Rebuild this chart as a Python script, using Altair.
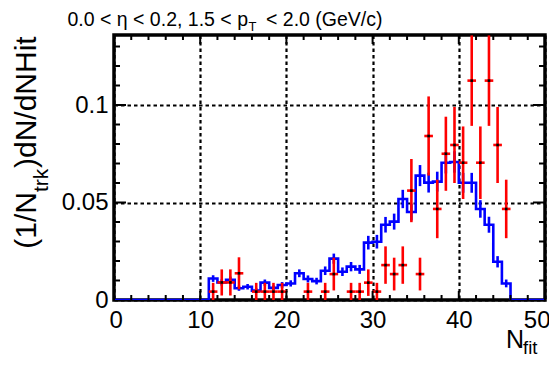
import altair as alt
import pandas as pd

W, H = 431, 265
YMAX = 0.1359

# ---- data ----
# blue histogram: bins [n, n+1) for n = 0..49
blue_vals = [0, 0, 0, 0, 0, 0, 0, 0, 0, 0, 0,
             0.011, 0.009, 0.0103, 0.006, 0.0068, 0.0048, 0.0089, 0.0062, 0.0077, 0.0085,
             0.0137, 0.0108, 0.0097, 0.015, 0.0212, 0.0145, 0.0171, 0.0157, 0.0294, 0.0299,
             0.0386, 0.0402, 0.0518, 0.0451, 0.0638, 0.0602, 0.0607, 0.0704, 0.0708, 0.0601,
             0.0601, 0.0467, 0.0386, 0.0196, 0.0085,
             0, 0, 0, 0]
blue_errs = [0, 0, 0, 0, 0, 0, 0, 0, 0, 0, 0,
             0.0017, 0.0016, 0.0017, 0.0013, 0.0014, 0.0012, 0.0016, 0.0013, 0.0015, 0.0016,
             0.002, 0.0018, 0.0017, 0.0022, 0.0026, 0.0022, 0.0024, 0.0023, 0.0035, 0.0035,
             0.004, 0.0041, 0.0047, 0.0043, 0.0054, 0.0051, 0.0051, 0.0055, 0.0055, 0.0051,
             0.0051, 0.0045, 0.0041, 0.0029, 0.002,
             0, 0, 0, 0]

# red points: bin left edges, values, errors
red_bins = [11, 12, 13, 14, 16, 17, 18, 19, 22, 24, 25, 27, 28, 29, 30,
            31, 32, 33, 34, 35, 36, 37, 38, 39, 40, 41, 42, 43, 44, 45]
red_vals = [0.0043, 0.009, 0.009, 0.0137, 0.0043, 0.0043, 0.0043, 0.0043, 0.0043, 0.0043,
            0.0133, 0.0043, 0.0043, 0.0089, 0.0043, 0.0179, 0.0133, 0.0179, 0.0561, 0.0133,
            0.0841, 0.0467, 0.075, 0.0795, 0.0704, 0.1125, 0.0704, 0.1125, 0.0795, 0.0467]
red_errs = [0.0045, 0.0067, 0.0067, 0.0082, 0.0045, 0.0045, 0.0045, 0.0045, 0.0045, 0.0045,
            0.0084, 0.0045, 0.0045, 0.0068, 0.0045, 0.0096, 0.0084, 0.0096, 0.0162, 0.0084,
            0.0203, 0.015, 0.019, 0.0195, 0.0186, 0.0232, 0.0186, 0.0232, 0.0195, 0.015]

x_labels = [0, 10, 20, 30, 40, 50]
y_labels = [0, 0.05, 0.1]
x_minor = [0, 2, 4, 6, 8, 12, 14, 16, 18, 22, 24, 26, 28, 32, 34, 36, 38, 42, 44, 46, 48, 50]
x_major = [10, 20, 30, 40]
y_minor = [0.01, 0.02, 0.03, 0.04, 0.06, 0.07, 0.08, 0.09, 0.11, 0.12, 0.13]
y_major = [0.05, 0.1]

# ---- tables ----
edges = list(range(0, 51))
blue_line = pd.DataFrame({"x": edges, "y": blue_vals + [0]})
blue_eb = pd.DataFrame({
    "x": [n + 0.5 for n in range(50)],
    "lo": [v - e for v, e in zip(blue_vals, blue_errs)],
    "hi": [v + e for v, e in zip(blue_vals, blue_errs)],
    "e": blue_errs,
})
blue_eb = blue_eb[blue_eb["e"] > 0]
red = pd.DataFrame({
    "x": [b + 0.5 for b in red_bins],
    "xl": red_bins,
    "xh": [b + 1 for b in red_bins],
    "y": red_vals,
    "lo": [v - e for v, e in zip(red_vals, red_errs)],
    "hi": [v + e for v, e in zip(red_vals, red_errs)],
})

FONT = "Liberation Sans"
BLUE = "#0000ff"
RED = "#ff0000"

xs = alt.Scale(domain=[0, 50], nice=False, zero=False)
ys = alt.Scale(domain=[0, YMAX], nice=False, zero=False)

base = alt.Chart(blue_line).mark_line(
    color=BLUE, strokeWidth=2.6, interpolate="step-after", clip=True
).encode(
    x=alt.X("x:Q", scale=xs, title=None, axis=alt.Axis(
        values=x_labels, labelFontSize=24, labelFont=FONT, labelColor="black",
        ticks=False, tickSize=0, domain=False, labelPadding=8,
        grid=True, gridColor="black", gridDash=[3.5, 3], gridWidth=2.2, gridOpacity=1,
        labelFlush=True, labelFlushOffset=5)),
    y=alt.Y("y:Q", scale=ys, title=None, axis=alt.Axis(
        values=y_labels, format="~g", labelFontSize=24, labelFont=FONT, labelColor="black",
        ticks=False, tickSize=0, domain=False, labelPadding=6,
        grid=True, gridColor="black", gridDash=[3.5, 3], gridWidth=2.2, gridOpacity=1,
        labelFlush=False)),
)

blue_err = alt.Chart(blue_eb).mark_rule(color=BLUE, strokeWidth=2.6, clip=True).encode(
    x=alt.X("x:Q", title=None), y=alt.Y("lo:Q", title=None), y2="hi:Q")

red_h = alt.Chart(red).mark_rule(color=RED, strokeWidth=2.6, clip=True).encode(
    x=alt.X("xl:Q", title=None), x2="xh:Q", y=alt.Y("y:Q", title=None))
red_v = alt.Chart(red).mark_rule(color=RED, strokeWidth=2.6, clip=True).encode(
    x=alt.X("x:Q", title=None), y=alt.Y("lo:Q", title=None), y2="hi:Q")
red_dot = alt.Chart(red).mark_square(color="black", size=7, opacity=1, clip=True).encode(
    x=alt.X("x:Q", title=None), y=alt.Y("y:Q", title=None))

# inward ticks on all four sides
def xticks(vals, length):
    d = pd.DataFrame({"t": vals})
    bot = alt.Chart(d).mark_rule(color="black", strokeWidth=2).encode(
        x=alt.X("t:Q", title=None), y=alt.value(H), y2=alt.value(H - length))
    top = alt.Chart(d).mark_rule(color="black", strokeWidth=2).encode(
        x=alt.X("t:Q", title=None), y=alt.value(0), y2=alt.value(length))
    return [bot, top]

def yticks(vals, length):
    d = pd.DataFrame({"t": vals})
    left = alt.Chart(d).mark_rule(color="black", strokeWidth=2).encode(
        y=alt.Y("t:Q", title=None), x=alt.value(0), x2=alt.value(length))
    right = alt.Chart(d).mark_rule(color="black", strokeWidth=2).encode(
        y=alt.Y("t:Q", title=None), x=alt.value(W - length), x2=alt.value(W))
    return [left, right]

ticks = xticks(x_minor, 5) + xticks(x_major, 9) + yticks(y_minor, 6) + yticks(y_major, 12)

def txt(s, x, y, size, align="left", angle=0):
    d = pd.DataFrame({"s": [s]})
    return alt.Chart(d).mark_text(
        font=FONT, fontSize=size, color="black", align=align,
        baseline="alphabetic", angle=angle
    ).encode(text="s:N", x=alt.value(x), y=alt.value(y))

# page coords -> plot coords: x - 114, y - 35
texts = [
    txt("0.0 < η < 0.2, 1.5 < p", 134, -9, 19.5, align="right"),
    txt("T", 134.5, -4, 13),
    txt("< 2.0 (GeV/c)", 152, -9, 19.5),
    txt("(1/N", -78, 157, 30, align="right", angle=270),
    txt("trk", -66, 157, 21, angle=270),
    txt(")dN/dNHit", -78, 133, 30, angle=270),
    txt("N", 392, 313, 25),
    txt("fit", 409, 319, 18.5),
]

chart = alt.layer(base, blue_err, red_h, red_v, red_dot, *ticks, *texts).properties(
    width=W, height=H,
    background="white",
    autosize=alt.AutoSizeParams(type="none"),
    padding={"left": 106, "top": 27, "right": 4, "bottom": 59},
).configure_view(stroke="black", strokeWidth=3.5)

chart.save("out.html", embed_options={"renderer": "svg", "actions": False})
